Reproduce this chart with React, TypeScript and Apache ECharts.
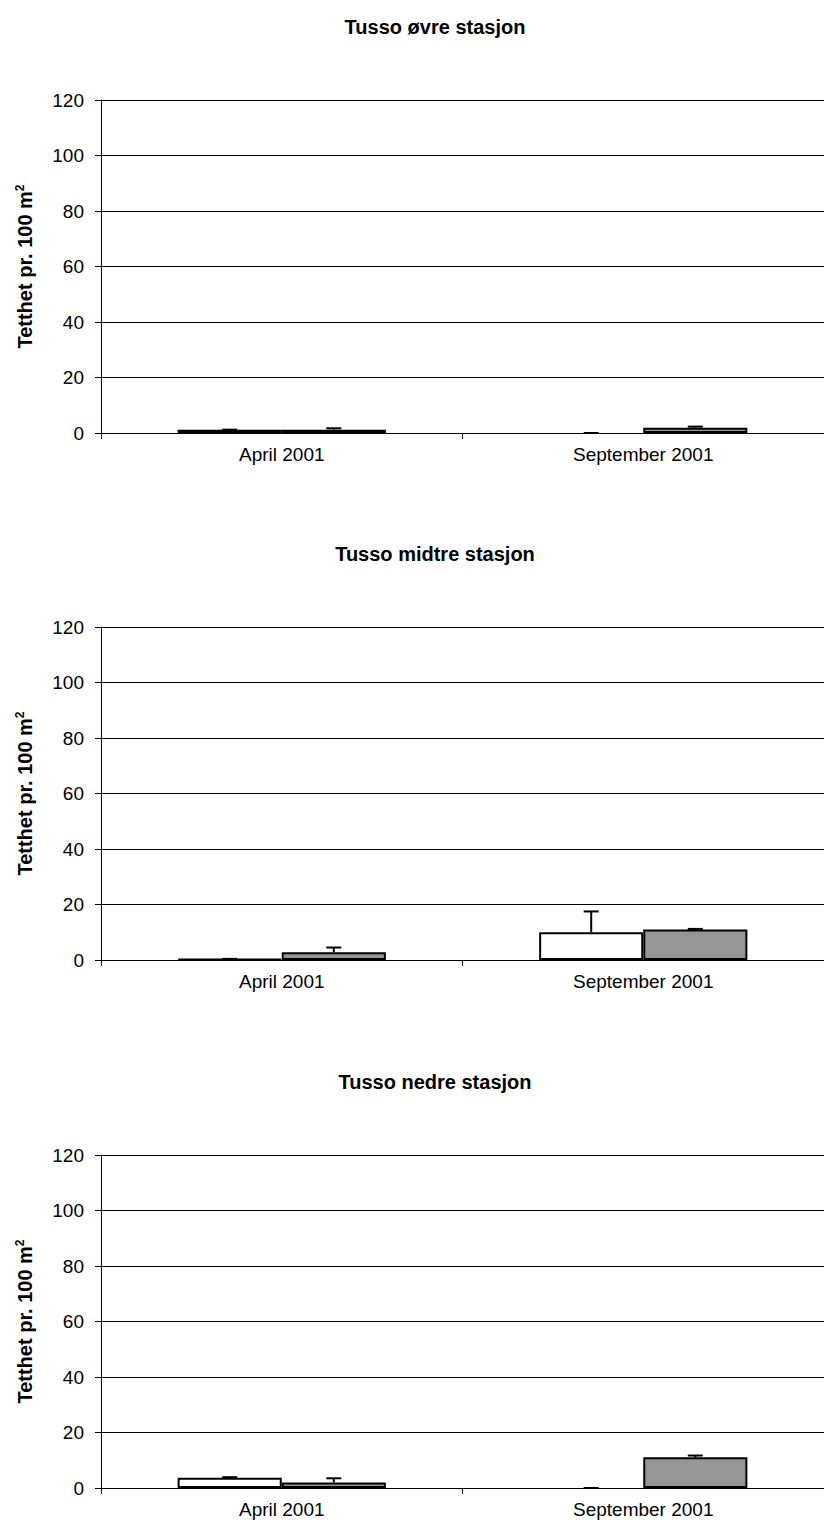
import React, { useEffect, useRef } from "react";
import * as echarts from "echarts";

const categories = ["April 2001", "September 2001"];
const panelTitles = ["Tusso øvre stasjon", "Tusso midtre stasjon", "Tusso nedre stasjon"];
const yTicks = [0, 20, 40, 60, 80, 100, 120];

// [white bar, gray bar] values per panel, per category
const ovreWhite = [1.2, 0];
const ovreWhiteErr = [0, 0];
const ovreGray = [1.2, 1.9];
const ovreGrayErr = [0.5, 0.4];

const midtreWhite = [0.4, 10];
const midtreWhiteErr = [0, 7.5];
const midtreGray = [2.8, 11];
const midtreGrayErr = [1.7, 0.2];

const nedreWhite = [3.7, 0];
const nedreWhiteErr = [0.2, 0];
const nedreGray = [2, 11.1];
const nedreGrayErr = [1.5, 0.6];

const panels = [
  { white: ovreWhite, whiteErr: ovreWhiteErr, gray: ovreGray, grayErr: ovreGrayErr },
  { white: midtreWhite, whiteErr: midtreWhiteErr, gray: midtreGray, grayErr: midtreGrayErr },
  { white: nedreWhite, whiteErr: nedreWhiteErr, gray: nedreGray, grayErr: nedreGrayErr },
];

const FONT = "'Liberation Sans', Arial, sans-serif";
const GRID_TOPS = [100, 627, 1155];
const GRID_H = 333;
const GRID_LEFT = 101;
const GRID_W = 730;
const BAR_FRAC = 0.288;

function errorSeries(idx: number, vals: number[], errs: number[], side: number) {
  return {
    type: "custom",
    xAxisIndex: idx,
    yAxisIndex: idx,
    z: 5,
    silent: true,
    data: vals.map((v, i) => [i, v, errs[i]]),
    renderItem: (params: any, api: any) => {
      const x = api.value(0);
      const v = api.value(1);
      const e = api.value(2);
      const base = api.coord([x, v]);
      const top = api.coord([x, v + e]);
      const band = api.size([1, 0])[0];
      const cx = base[0] + side * band * BAR_FRAC * 0.5;
      const style = { stroke: "#000", lineWidth: 2 };
      return {
        type: "group",
        children: [
          { type: "line", shape: { x1: cx, y1: base[1], x2: cx, y2: top[1] }, style },
          { type: "line", shape: { x1: cx - 7.5, y1: top[1], x2: cx + 7.5, y2: top[1] }, style },
        ],
      };
    },
  };
}

function barData(vals: number[]) {
  return vals.map((v) => (v === 0 ? { value: v, itemStyle: { borderWidth: 0 } } : v));
}

export default function App() {
  const ref = useRef<HTMLDivElement>(null);
  useEffect(() => {
    if (!ref.current) return;
    const chart = echarts.init(ref.current, null, { renderer: "svg" });
    const grids: any[] = [];
    const xAxes: any[] = [];
    const yAxes: any[] = [];
    const series: any[] = [];
    const titles: any[] = [];
    panels.forEach((p, i) => {
      grids.push({ left: GRID_LEFT, top: GRID_TOPS[i], width: GRID_W, height: GRID_H, containLabel: false });
      titles.push({
        text: panelTitles[i],
        left: 430,
        textAlign: "center",
        top: GRID_TOPS[i] - 88,
        textStyle: { fontFamily: FONT, fontSize: 20, fontWeight: "bold", color: "#000" },
      });
      xAxes.push({
        type: "category",
        gridIndex: i,
        data: categories,
        axisLine: { lineStyle: { color: "#000", width: 1 } },
        axisTick: { show: true, length: 6, lineStyle: { color: "#000" } },
        axisLabel: { fontFamily: FONT, fontSize: 19, color: "#000", margin: 12 },
        splitLine: { show: false },
      });
      yAxes.push({
        type: "value",
        gridIndex: i,
        min: 0,
        max: 120,
        interval: 20,
        name: "Tetthet pr. 100 m{sup|2}",
        nameLocation: "middle",
        nameRotate: 90,
        nameGap: 66,
        nameTextStyle: {
          fontFamily: FONT,
          fontSize: 20,
          fontWeight: "bold",
          color: "#000",
          rich: {
            sup: { fontFamily: FONT, fontSize: 12, fontWeight: "bold", color: "#000", verticalAlign: "top", padding: [0, 0, 9, 0] },
          },
        },
        axisLine: { show: true, lineStyle: { color: "#000", width: 1 } },
        axisTick: { show: true, length: 6, lineStyle: { color: "#000" } },
        axisLabel: {
          fontFamily: FONT,
          fontSize: 19,
          color: "#000",
          margin: 17,
          formatter: (v: number) => (yTicks.includes(v) ? String(v) : ""),
        },
        splitLine: { show: true, lineStyle: { color: "#000", width: 1 } },
      });
      series.push({
        type: "bar",
        xAxisIndex: i,
        yAxisIndex: i,
        data: barData(p.white),
        barWidth: BAR_FRAC * 100 + "%",
        barGap: "0%",
        itemStyle: { color: "#ffffff", borderColor: "#000", borderWidth: 2 },
        z: 3,
      });
      series.push({
        type: "bar",
        xAxisIndex: i,
        yAxisIndex: i,
        data: barData(p.gray),
        barWidth: BAR_FRAC * 100 + "%",
        barGap: "0%",
        itemStyle: { color: "#969696", borderColor: "#000", borderWidth: 2 },
        z: 3,
      });
      series.push(errorSeries(i, p.white, p.whiteErr, -1));
      series.push(errorSeries(i, p.gray, p.grayErr, 1));
    });
    chart.setOption({
      animation: false,
      backgroundColor: "#fff",
      title: titles,
      grid: grids,
      xAxis: xAxes,
      yAxis: yAxes,
      series,
    });
    return () => chart.dispose();
  }, []);
  return (
    <div
      ref={ref}
      style={{ position: "absolute", left: 0, top: 0, width: 824, height: 1529, overflow: "hidden" }}
    />
  );
}
